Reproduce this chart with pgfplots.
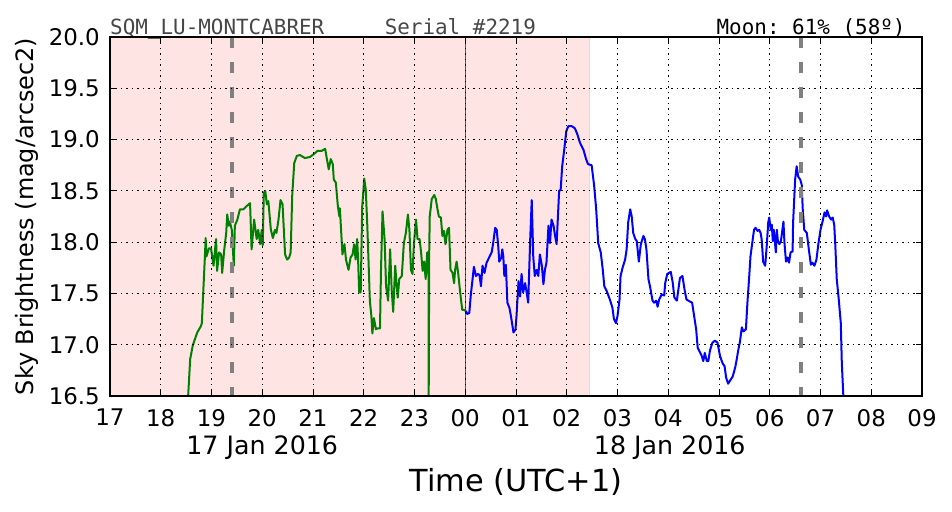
\documentclass[border=0pt]{standalone}
\usepackage{fontspec}
\setmainfont{DejaVu Sans}
\setmonofont{DejaVu Sans Mono}
\usepackage{pgfplots}
\pgfplotsset{compat=1.18}
\definecolor{pinkfill}{RGB}{255,228,228}
\definecolor{pinkedge}{RGB}{255,205,205}
\definecolor{mgreen}{RGB}{0,128,0}
\definecolor{mblue}{RGB}{0,0,255}
\definecolor{dashgray}{RGB}{128,128,128}
\definecolor{txtgray}{RGB}{70,70,70}
\newcommand{\tickfont}{\fontsize{23}{27}\selectfont}
\begin{document}
\begin{tikzpicture}
\useasboundingbox (-110bp,-116bp) rectangle (842bp,396bp);
\begin{axis}[
  scale only axis, width=812bp, height=359bp,
  xmin=17, xmax=33, ymin=16.5, ymax=20,
  xtick={17,18,...,33},
  xticklabels={17,18,19,20,21,22,23,00,01,02,03,04,05,06,07,08,09},
  ytick={16.5,17,17.5,18,18.5,19,19.5,20},
  yticklabels={16.5,17.0,17.5,18.0,18.5,19.0,19.5,20.0},
  grid=major,
  grid style={black, line width=0.8bp, dash pattern=on 1.5bp off 4bp},
  axis line style={line width=1.6bp, black},
  major tick style={line width=1bp, black},
  major tick length=6bp,
  tick align=inside,
  axis on top,
  clip=false,
  xticklabel style={font=\tickfont, inner sep=0pt, anchor=north, yshift=-13bp},
  yticklabel style={font=\tickfont, inner sep=0pt, anchor=east, xshift=-10bp},
]
\addplot[draw=none, fill=pinkfill] coordinates {(17,16.5) (17,20) (26.44,20) (26.44,16.5) (17,16.5)};
\addplot[pinkedge, line width=1bp] coordinates {(26.44,16.5) (26.44,20)};
\addplot[black!65, line width=1.2bp] coordinates {(24,16.5) (24,20)};
\addplot[mgreen, line width=2bp, line join=round] table {
18.54 16.50
18.58 16.86
18.63 16.99
18.67 17.05
18.72 17.12
18.79 17.18
18.81 17.21
18.84 17.54
18.87 17.86
18.885 18.04
18.90 17.86
18.95 17.94
18.99 17.94
19.04 17.77
19.09 18.03
19.11 17.72
19.15 17.90
19.19 17.88
19.21 17.70
19.25 17.92
19.29 18.09
19.31 18.27
19.34 18.16
19.36 18.20
19.40 18.12
19.44 17.77
19.46 18.16
19.51 18.22
19.56 18.32
19.63 18.32
19.69 18.35
19.76 18.38
19.79 17.93
19.84 18.22
19.89 18.03
19.92 18.12
19.96 17.98
19.99 18.12
20.01 17.97
20.03 18.48
20.06 18.50
20.09 18.37
20.12 18.40
20.17 18.12
20.21 18.04
20.25 18.12
20.28 18.09
20.32 18.22
20.36 18.41
20.40 18.37
20.45 17.88
20.49 17.83
20.53 17.85
20.56 17.90
20.59 18.45
20.63 18.77
20.68 18.84
20.74 18.85
20.84 18.82
20.94 18.83
21.02 18.86
21.09 18.89
21.17 18.89
21.24 18.91
21.27 18.82
21.31 18.71
21.35 18.81
21.39 18.76
21.41 18.61
21.45 18.58
21.49 18.35
21.52 18.25
21.53 18.33
21.56 18.06
21.58 17.88
21.62 17.98
21.65 17.83
21.70 17.73
21.74 17.85
21.78 17.88
21.81 17.98
21.84 17.83
21.87 18.03
21.89 17.81
21.91 17.51
21.94 17.51
21.97 18.35
22.01 18.62
22.04 18.51
22.07 18.16
22.10 17.73
22.12 17.43
22.15 17.28
22.17 17.11
22.20 17.26
22.24 17.15
22.27 17.16
22.32 17.16
22.34 17.73
22.37 18.30
22.41 18.03
22.44 17.57
22.48 17.43
22.52 17.93
22.55 17.54
22.58 17.32
22.62 17.77
22.65 17.57
22.67 17.46
22.70 17.64
22.75 17.67
22.79 17.99
22.83 18.09
22.87 18.27
22.90 18.12
22.93 17.73
22.96 17.69
22.99 17.99
23.03 18.22
23.06 18.03
23.10 18.03
23.13 17.90
23.16 17.72
23.19 17.81
23.22 17.64
23.25 17.90
23.275 17.90
23.28 16.50
23.29 17.90
23.30 18.25
23.34 18.42
23.39 18.46
23.42 18.42
23.45 18.33
23.48 18.25
23.52 18.24
23.55 18.06
23.58 18.11
23.61 17.98
23.65 18.12
23.68 18.14
23.71 17.73
23.75 17.70
23.78 17.60
23.80 17.73
23.83 17.81
23.86 17.70
23.90 17.51
23.94 17.34
23.98 17.34
24.01 17.33
};
\addplot[mblue, line width=2bp, line join=round] table {
24.01 17.33
24.04 17.30
24.08 17.31
24.11 17.49
24.14 17.62
24.17 17.76
24.21 17.67
24.25 17.69
24.28 17.68
24.31 17.57
24.34 17.77
24.38 17.70
24.42 17.80
24.47 17.85
24.52 17.90
24.55 17.99
24.59 18.14
24.62 18.12
24.65 17.96
24.67 17.81
24.71 17.85
24.73 17.93
24.75 17.86
24.77 17.67
24.80 17.78
24.83 17.41
24.87 17.36
24.90 17.28
24.95 17.12
24.99 17.15
25.01 17.28
25.05 17.62
25.08 17.47
25.11 17.69
25.14 17.51
25.18 17.60
25.21 17.51
25.24 17.41
25.28 18.03
25.31 18.41
25.34 17.86
25.37 17.67
25.41 17.73
25.44 17.67
25.47 17.88
25.51 17.77
25.54 17.59
25.57 17.73
25.60 17.80
25.64 18.16
25.67 17.99
25.70 18.22
25.74 18.16
25.77 18.06
25.80 17.98
25.83 18.29
25.85 18.50
25.88 18.51
25.91 18.74
25.95 18.90
25.99 19.08
26.03 19.13
26.10 19.13
26.16 19.11
26.21 19.05
26.26 18.97
26.33 18.90
26.38 18.81
26.42 18.76
26.49 18.75
26.54 18.55
26.58 18.32
26.62 17.99
26.67 17.90
26.71 17.73
26.74 17.57
26.79 17.52
26.85 17.44
26.90 17.36
26.93 17.25
26.97 17.21
27.00 17.28
27.04 17.44
27.06 17.67
27.10 17.75
27.15 17.83
27.18 17.93
27.21 18.19
27.25 18.32
27.28 18.25
27.31 18.09
27.35 18.03
27.38 18.01
27.42 17.81
27.46 17.98
27.51 18.06
27.54 18.03
27.57 17.93
27.61 17.64
27.64 17.57
27.69 17.43
27.72 17.41
27.76 17.43
27.79 17.37
27.82 17.44
27.87 17.49
27.92 17.48
27.94 17.60
27.98 17.69
28.05 17.71
28.09 17.60
28.12 17.46
28.17 17.43
28.20 17.54
28.23 17.65
28.28 17.67
28.32 17.54
28.36 17.44
28.43 17.42
28.47 17.41
28.51 17.28
28.55 17.15
28.58 16.97
28.63 16.92
28.66 16.89
28.69 16.84
28.72 16.92
28.76 16.84
28.79 16.84
28.82 16.94
28.87 17.02
28.92 17.04
28.97 17.02
29.02 16.89
29.07 16.82
29.11 16.79
29.14 16.68
29.18 16.62
29.23 16.66
29.27 16.69
29.32 16.78
29.35 16.86
29.38 16.95
29.41 17.02
29.45 17.17
29.48 17.13
29.53 17.15
29.56 17.41
29.60 17.70
29.62 17.86
29.66 18.01
29.69 18.12
29.72 18.14
29.76 18.11
29.79 18.12
29.82 18.09
29.84 18.03
29.87 17.81
29.91 17.77
29.94 17.96
29.97 18.19
29.99 18.24
30.02 18.12
30.04 18.17
30.06 18.01
30.08 18.12
30.12 17.90
30.14 18.12
30.16 18.01
30.19 17.98
30.22 18.01
30.27 18.20
30.29 17.99
30.32 17.81
30.35 17.85
30.38 17.80
30.41 17.90
30.45 17.91
30.46 18.19
30.50 18.61
30.53 18.74
30.56 18.64
30.60 18.61
30.63 18.56
30.65 18.32
30.68 18.12
30.73 18.09
30.77 17.93
30.81 17.78
30.84 17.80
30.88 17.77
30.92 17.83
30.96 17.99
31.00 18.12
31.04 18.20
31.08 18.29
31.11 18.25
31.13 18.31
31.17 18.25
31.21 18.22
31.24 18.24
31.27 18.17
31.29 17.99
31.32 17.64
31.36 17.44
31.40 17.21
31.42 16.82
31.45 16.50
};
\addplot[dashgray, line width=3.5bp, dash pattern=on 11bp off 14bp] coordinates {(19.40,20) (19.40,16.5)};
\addplot[dashgray, line width=3.5bp, dash pattern=on 11bp off 14bp] coordinates {(30.62,20) (30.62,16.5)};
\node[font=\fontsize{25.4}{29}\selectfont, anchor=base] at ([yshift=-58bp]axis cs:20,16.5) {17 Jan 2016};
\node[font=\fontsize{25.4}{29}\selectfont, anchor=base] at ([yshift=-58bp]axis cs:28.03,16.5) {18 Jan 2016};
\node[font=\fontsize{30.5}{34}\selectfont, anchor=base] at ([yshift=-95.7bp]rel axis cs:0.5,0) {Time (UTC+1)};
\node[font=\fontsize{24}{28}\selectfont, rotate=90, anchor=center] at ([xshift=-83.5bp]rel axis cs:0,0.5) {Sky Brightness (mag/arcsec2)};
\node[font=\fontsize{21}{24}\ttfamily, text=txtgray, anchor=base west, inner sep=0pt] at ([yshift=2bp]rel axis cs:0,1) {SQM\_LU-MONTCABRER};
\node[font=\fontsize{21}{24}\ttfamily, text=txtgray, anchor=base west, inner sep=0pt] at ([yshift=2bp]axis cs:22.41,20) {Serial \#2219};
\node[font=\fontsize{21}{24}\ttfamily, text=black, anchor=base east, inner sep=0pt] at ([yshift=2bp]axis cs:32.68,20) {Moon: 61\% (58º)};
\end{axis}
\end{tikzpicture}
\end{document}
